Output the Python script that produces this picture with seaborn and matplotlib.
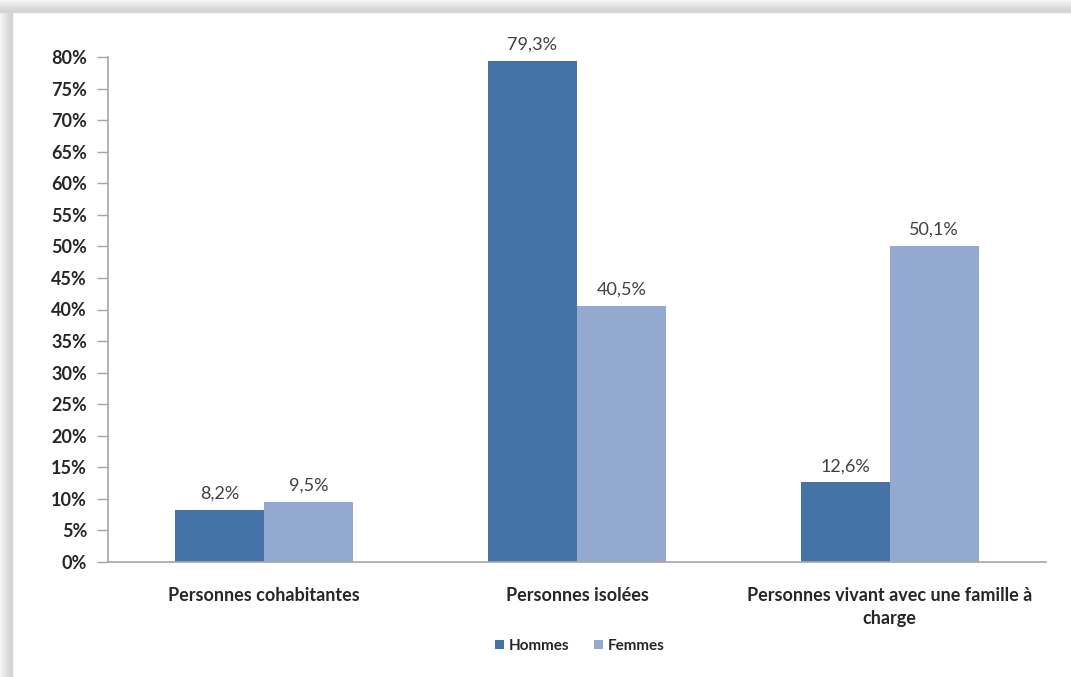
"""Répartition par type de ménage, hommes / femmes."""

import matplotlib.pyplot as plt
import seaborn as sns
import pandas as pd
from matplotlib.patches import Rectangle
from matplotlib.ticker import FuncFormatter, MultipleLocator

categories = [
    "Personnes cohabitantes",
    "Personnes isolées",
    "Personnes vivant avec une famille à\ncharge",
]
series_names = ["Hommes", "Femmes"]
hommes = [8.2, 79.3, 12.6]
femmes = [9.5, 40.5, 50.1]
colors = ["#4572A7", "#93A9CF"]

df = pd.DataFrame({
    "categorie": categories * 2,
    "sexe": [series_names[0]] * 3 + [series_names[1]] * 3,
    "valeur": hommes + femmes,
})

sns.set_style("white")
plt.rcParams["font.family"] = ["Lato", "DejaVu Sans"]

fig = plt.figure(figsize=(10.71, 6.77), dpi=100)
ax = fig.add_axes([108 / 1071, 1 - 562 / 677, (1046 - 108) / 1071, (562 - 57) / 677])

sns.barplot(data=df, x="categorie", y="valeur", hue="sexe", palette=colors,
            width=0.57, gap=0, saturation=1, linewidth=0, ax=ax, legend=True)

for cont in ax.containers:
    ax.bar_label(cont, labels=[f"{v:.1f}%".replace(".", ",") for v in cont.datavalues],
                 padding=6, fontsize=13, color="#404040")

ax.set_ylim(0, 80)
ax.set_xlim(-0.5, 2.5)
ax.yaxis.set_major_locator(MultipleLocator(5))
ax.yaxis.set_major_formatter(FuncFormatter(lambda v, _: f"{v:.0f}%"))
ax.set_xlabel("")
ax.set_ylabel("")
ax.tick_params(axis="y", direction="out", length=8, width=1, color="#a6a6a6",
               labelsize=13, labelcolor="#262626", pad=7, left=True)
ax.tick_params(axis="x", length=0, labelsize=13, labelcolor="#262626", pad=18)
for lab in ax.get_xticklabels() + ax.get_yticklabels():
    lab.set_fontweight("bold")
for lab in ax.get_xticklabels():
    lab.set_linespacing(1.45)

sns.despine(ax=ax)
for s in ("left", "bottom"):
    ax.spines[s].set_color("#a6a6a6")
    ax.spines[s].set_linewidth(1.2)

handles, labels = ax.get_legend_handles_labels()
ax.legend_.remove()
fig.legend(handles, labels, loc="center", bbox_to_anchor=(580 / 1071, 1 - 646 / 677),
           ncol=2, frameon=False, handlelength=0.6, handleheight=0.6,
           handletextpad=0.3, columnspacing=1.6,
           prop={"size": 11, "weight": "bold"}, labelcolor="#262626")

# gray shadow of the frame, top and left
shades = ["#f4f4f4", "#ececec", "#e6e6e6", "#e0e0e0", "#dadada", "#d4d4d4"]
for i, c in enumerate(shades):
    fig.patches.append(Rectangle((0, 1 - (2 * i + 2) / 677), 1, 2 / 677,
                                 transform=fig.transFigure, color=c, zorder=-1))
    fig.patches.append(Rectangle((2 * i / 1071, 0), 2 / 1071, 1 - 12 / 677,
                                 transform=fig.transFigure, color=c, zorder=-1))

fig.savefig("out.png", dpi=100)
